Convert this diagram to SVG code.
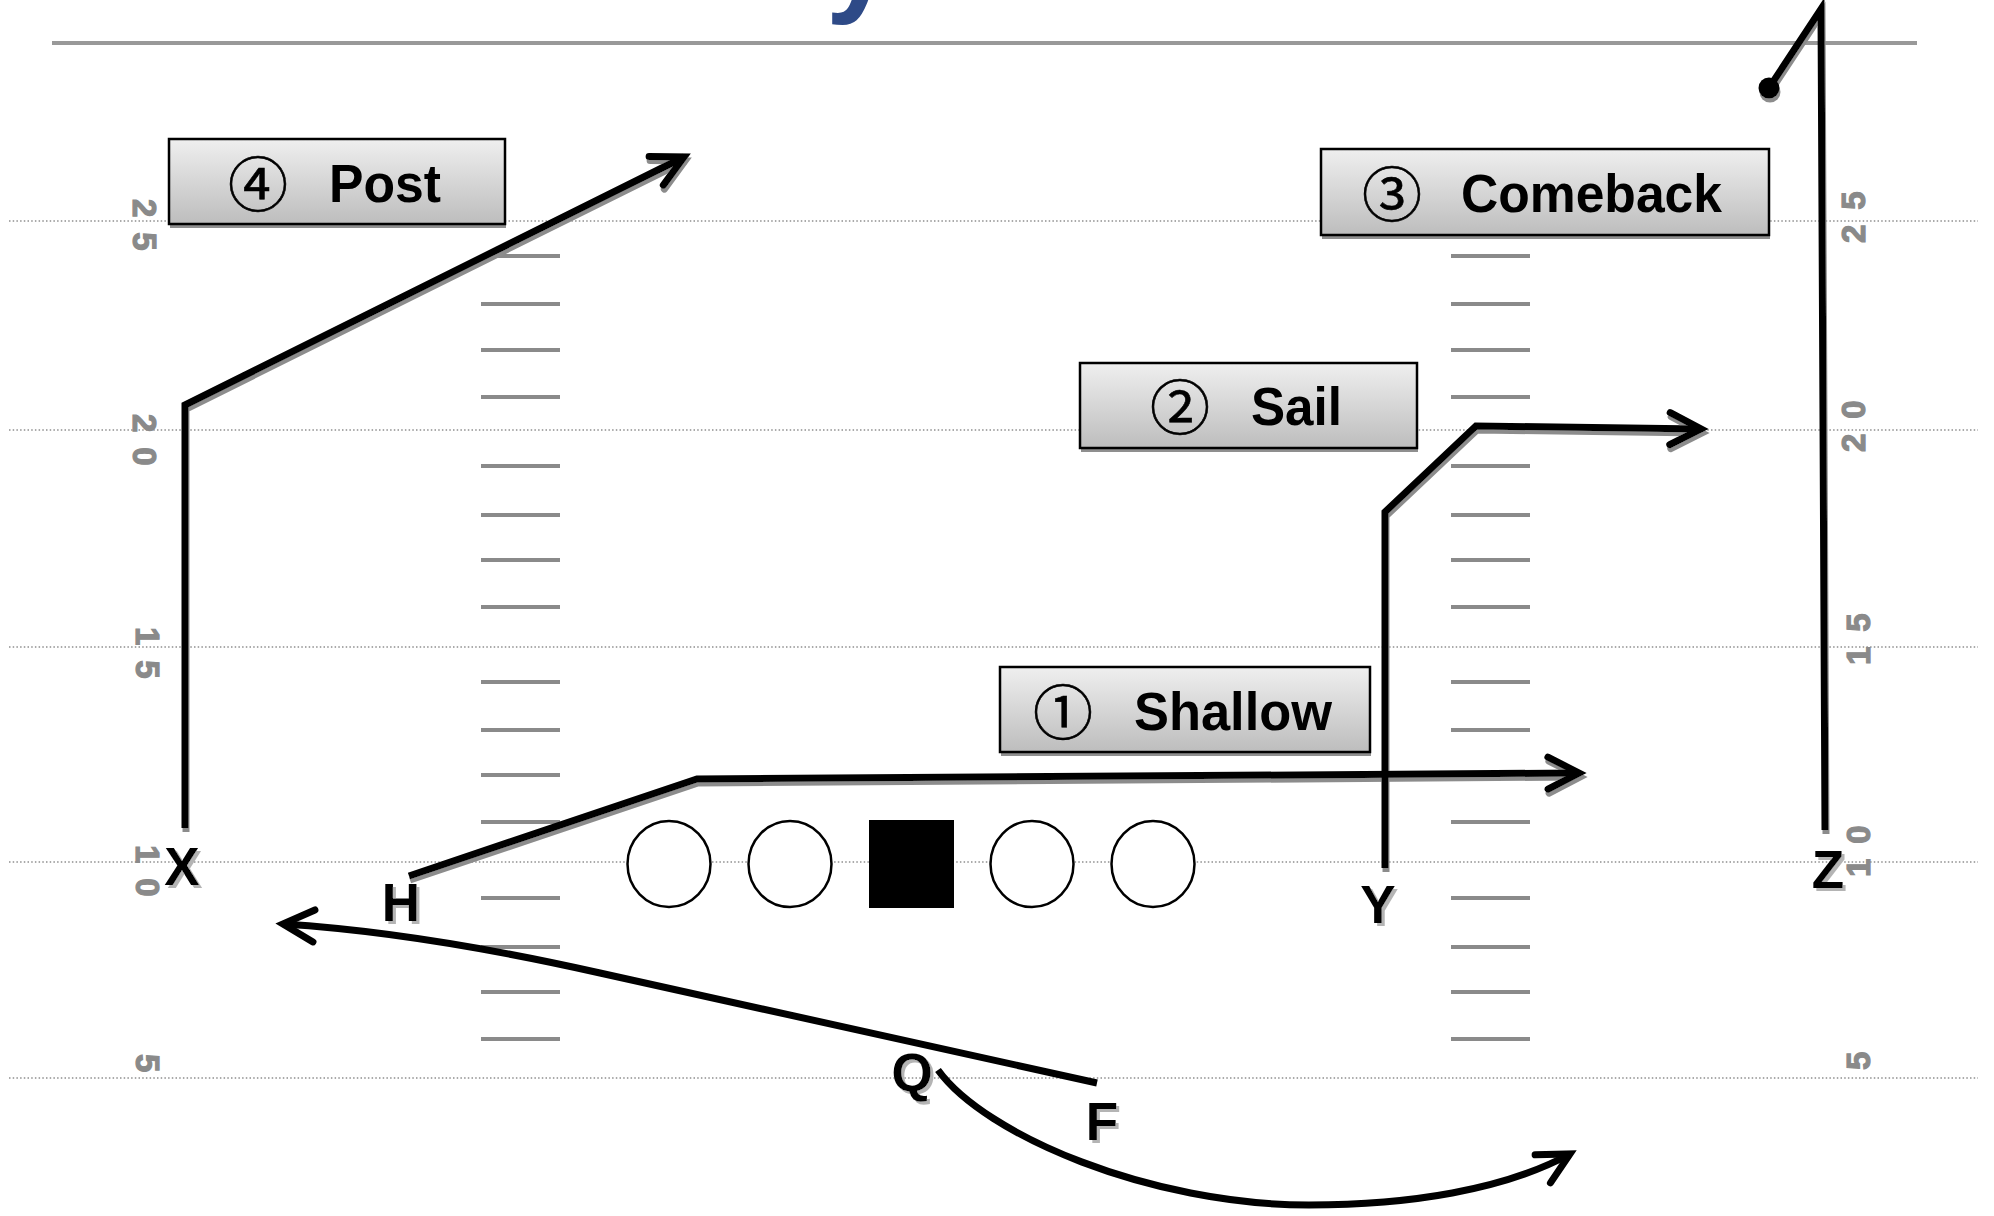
<svg xmlns="http://www.w3.org/2000/svg" width="1994" height="1216" viewBox="0 0 1994 1216">
  <defs>
    <linearGradient id="boxFill" x1="0" y1="0" x2="0" y2="1">
      <stop offset="0" stop-color="#efefef"/>
      <stop offset="1" stop-color="#bdbdbd"/>
    </linearGradient>
    <!-- open chevron arrowhead -->
    <marker id="arrow" markerUnits="userSpaceOnUse" orient="auto" refX="0" refY="0" markerWidth="1" markerHeight="1" overflow="visible">
      <path class="head" d="M-31,-16 L0,0 L-31,16"/>
    </marker>
    <marker id="dot" markerUnits="userSpaceOnUse" refX="0" refY="0" markerWidth="1" markerHeight="1" overflow="visible">
      <circle r="10.5" fill="#000"/>
    </marker>
    <filter id="lineShadow" filterUnits="userSpaceOnUse" x="0" y="0" width="1994" height="1216">
      <feDropShadow dx="1" dy="4" stdDeviation="0.6" flood-color="#8c8c8c" flood-opacity="1"/>
    </filter>
    <filter id="letterShadow" filterUnits="userSpaceOnUse" x="0" y="0" width="1994" height="1216">
      <feDropShadow dx="3" dy="3" stdDeviation="0.6" flood-color="#b4b4b4" flood-opacity="1"/>
    </filter>
  </defs>
  <style>
    .yard { stroke: #8f8f8f; stroke-width: 1.5; stroke-dasharray: 1.5 2.2; fill: none; }
    .rule { stroke: #999999; stroke-width: 4; }
    .hash { stroke: #8a8a8a; stroke-width: 4; }
    .num { font-family: "Liberation Sans", Arial, sans-serif; font-weight: bold; font-size: 33px; fill: #8a8a8a; stroke: #8a8a8a; stroke-width: 1.2; letter-spacing: 15px; }
    .route { fill: none; stroke: #000; stroke-width: 7; stroke-linejoin: miter; stroke-linecap: butt; }
    .head { fill: none; stroke: #000; stroke-width: 7; stroke-linecap: round; stroke-linejoin: miter; }
    .box { fill: url(#boxFill); stroke: #000; stroke-width: 2.5; }
    .boxShadow { fill: #8f8f8f; }
    .word { font-family: "Liberation Sans", Arial, sans-serif; font-weight: bold; font-size: 54px; fill: #000; }
    .circ { font-family: "Noto Sans CJK JP", "DejaVu Sans", sans-serif; font-size: 60px; fill: #000; stroke: #000; stroke-width: 0.6; text-anchor: middle; }
    .player { font-family: "Liberation Sans", Arial, sans-serif; font-weight: bold; font-size: 53px; fill: #000; text-anchor: middle; }
    .lineman { fill: #fff; stroke: #000; stroke-width: 2.5; }
  </style>

  <rect width="1994" height="1216" fill="#fff"/>

  <!-- title descender peeking in at the top edge -->
  <text x="826" y="0" font-family="Liberation Sans, Arial, sans-serif" font-weight="bold" font-size="120" fill="#2e4a87">y</text>

  <!-- field markings -->
  <g id="field">
    <line class="rule" x1="52" y1="43" x2="1917" y2="43"/>
    <g id="yard-lines">
      <line class="yard" x1="9" y1="221" x2="1978" y2="221"/>
      <line class="yard" x1="9" y1="430" x2="1978" y2="430"/>
      <line class="yard" x1="9" y1="647" x2="1978" y2="647"/>
      <line class="yard" x1="9" y1="862" x2="1978" y2="862"/>
      <line class="yard" x1="9" y1="1078" x2="1978" y2="1078"/>
    </g>
    <g id="hashes-left">
      <line class="hash" x1="481" y1="256" x2="560" y2="256"/>
      <line class="hash" x1="481" y1="304" x2="560" y2="304"/>
      <line class="hash" x1="481" y1="350" x2="560" y2="350"/>
      <line class="hash" x1="481" y1="397" x2="560" y2="397"/>
      <line class="hash" x1="481" y1="466" x2="560" y2="466"/>
      <line class="hash" x1="481" y1="515" x2="560" y2="515"/>
      <line class="hash" x1="481" y1="560" x2="560" y2="560"/>
      <line class="hash" x1="481" y1="607" x2="560" y2="607"/>
      <line class="hash" x1="481" y1="682" x2="560" y2="682"/>
      <line class="hash" x1="481" y1="730" x2="560" y2="730"/>
      <line class="hash" x1="481" y1="775" x2="560" y2="775"/>
      <line class="hash" x1="481" y1="822" x2="560" y2="822"/>
      <line class="hash" x1="481" y1="898" x2="560" y2="898"/>
      <line class="hash" x1="481" y1="947" x2="560" y2="947"/>
      <line class="hash" x1="481" y1="992" x2="560" y2="992"/>
      <line class="hash" x1="481" y1="1039" x2="560" y2="1039"/>
    </g>
    <g id="hashes-right">
      <line class="hash" x1="1451" y1="256" x2="1530" y2="256"/>
      <line class="hash" x1="1451" y1="304" x2="1530" y2="304"/>
      <line class="hash" x1="1451" y1="350" x2="1530" y2="350"/>
      <line class="hash" x1="1451" y1="397" x2="1530" y2="397"/>
      <line class="hash" x1="1451" y1="466" x2="1530" y2="466"/>
      <line class="hash" x1="1451" y1="515" x2="1530" y2="515"/>
      <line class="hash" x1="1451" y1="560" x2="1530" y2="560"/>
      <line class="hash" x1="1451" y1="607" x2="1530" y2="607"/>
      <line class="hash" x1="1451" y1="682" x2="1530" y2="682"/>
      <line class="hash" x1="1451" y1="730" x2="1530" y2="730"/>
      <line class="hash" x1="1451" y1="775" x2="1530" y2="775"/>
      <line class="hash" x1="1451" y1="822" x2="1530" y2="822"/>
      <line class="hash" x1="1451" y1="898" x2="1530" y2="898"/>
      <line class="hash" x1="1451" y1="947" x2="1530" y2="947"/>
      <line class="hash" x1="1451" y1="992" x2="1530" y2="992"/>
      <line class="hash" x1="1451" y1="1039" x2="1530" y2="1039"/>
    </g>
    <g id="numbers-left">
      <text class="num" transform="translate(133,199) rotate(90)">25</text>
      <text class="num" transform="translate(133,414) rotate(90)">20</text>
      <text class="num" transform="translate(136,627) rotate(90)">15</text>
      <text class="num" transform="translate(136,845) rotate(90)">10</text>
      <text class="num" transform="translate(136,1054) rotate(90)">5</text>
    </g>
    <g id="numbers-right">
      <text class="num" transform="translate(1865,243) rotate(-90)">25</text>
      <text class="num" transform="translate(1865,452) rotate(-90)">20</text>
      <text class="num" transform="translate(1870,665) rotate(-90)">15</text>
      <text class="num" transform="translate(1870,877) rotate(-90)">10</text>
      <text class="num" transform="translate(1870,1070) rotate(-90)">5</text>
    </g>
  </g>

  <!-- routes -->
  <g id="connectors">
    <g filter="url(#lineShadow)">
      <path id="route-post" class="route" d="M185,828 L185,405 L684,157" marker-end="url(#arrow)"/>
      <path id="route-sail" class="route" d="M1385,868 L1385,512 L1476,426 L1701,429" marker-end="url(#arrow)"/>
      <path id="route-shallow" class="route" d="M409,876 L697,779 L1579,773" marker-end="url(#arrow)"/>
      <path id="route-comeback" class="route" d="M1825,830 L1821,9 L1769,88" marker-end="url(#dot)"/>
    </g>
    <path id="route-flat" class="route" d="M1097,1083 L600,973 C480,946 380,930 283,924" marker-end="url(#arrow)"/>
    <path id="route-qb" class="route" d="M938,1070 C985,1135 1150,1205 1309,1205 C1409,1205 1504,1190 1570,1154" marker-end="url(#arrow)"/>
  </g>

  <!-- route labels -->
  <g id="label-post">
    <rect class="boxShadow" x="170" y="143" width="336" height="85"/>
    <rect class="box" x="169" y="139" width="336" height="85"/>
    <text class="circ" x="258" y="207">④</text>
    <text class="word" x="329" y="202" textLength="112" lengthAdjust="spacingAndGlyphs">Post</text>
  </g>
  <g id="label-comeback">
    <rect class="boxShadow" x="1322" y="153" width="448" height="86"/>
    <rect class="box" x="1321" y="149" width="448" height="86"/>
    <text class="circ" x="1392" y="217">③</text>
    <text class="word" x="1461" y="212" textLength="261" lengthAdjust="spacingAndGlyphs">Comeback</text>
  </g>
  <g id="label-sail">
    <rect class="boxShadow" x="1081" y="367" width="337" height="85"/>
    <rect class="box" x="1080" y="363" width="337" height="85"/>
    <text class="circ" x="1180" y="430">②</text>
    <text class="word" x="1251" y="425" textLength="91" lengthAdjust="spacingAndGlyphs">Sail</text>
  </g>
  <g id="label-shallow">
    <rect class="boxShadow" x="1001" y="671" width="370" height="85"/>
    <rect class="box" x="1000" y="667" width="370" height="85"/>
    <text class="circ" x="1063" y="735">①</text>
    <text class="word" x="1134" y="730" textLength="198" lengthAdjust="spacingAndGlyphs">Shallow</text>
  </g>

  <!-- offensive line -->
  <g id="line-lt"><ellipse class="lineman" cx="669" cy="864" rx="41.5" ry="43"/></g>
  <g id="line-lg"><ellipse class="lineman" cx="790" cy="864" rx="41.5" ry="43"/></g>
  <g id="line-c"><rect x="869" y="820" width="85" height="88" fill="#000"/></g>
  <g id="line-rg"><ellipse class="lineman" cx="1032" cy="864" rx="41.5" ry="43"/></g>
  <g id="line-rt"><ellipse class="lineman" cx="1153" cy="864" rx="41.5" ry="43"/></g>

  <!-- skill players -->
  <g filter="url(#letterShadow)">
    <g id="player-x"><text class="player" x="182" y="885">X</text></g>
    <g id="player-h"><text class="player" x="401" y="921">H</text></g>
    <g id="player-y"><text class="player" x="1378" y="923">Y</text></g>
    <g id="player-z"><text class="player" x="1828" y="888">Z</text></g>
    <g id="player-q"><text class="player" x="912" y="1091">Q</text></g>
    <g id="player-f"><text class="player" x="1102" y="1140">F</text></g>
  </g>
</svg>
